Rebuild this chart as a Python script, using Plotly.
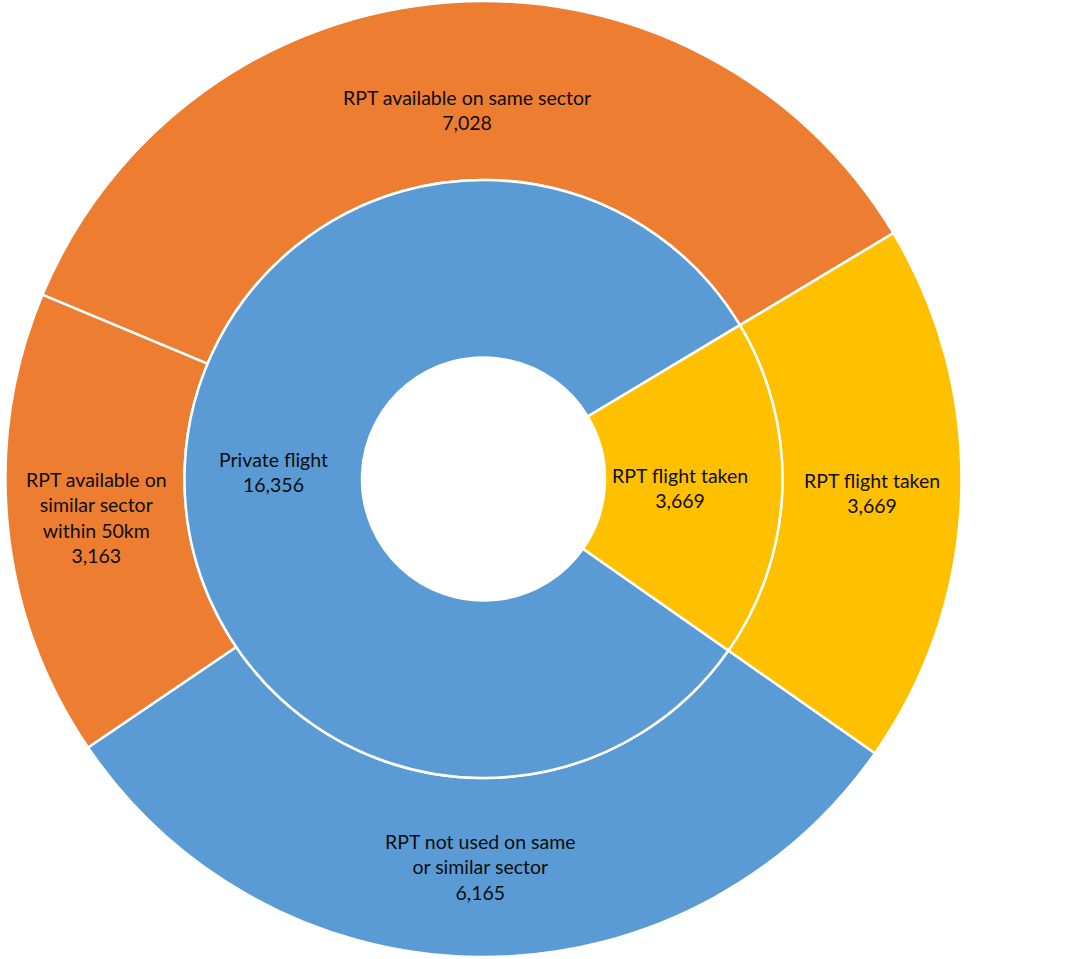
import numpy as np
import plotly.graph_objects as go

# ---- data ----
inner_labels = ["Private flight", "RPT flight taken"]
inner_values = [16356, 3669]
inner_text = ["Private flight", "RPT flight taken"]

outer_labels = ["RPT not used on same or similar sector",
                "RPT available on similar sector within 50km",
                "RPT available on same sector",
                "RPT flight taken"]
outer_values = [6165, 3163, 7028, 3669]
outer_text = ["RPT not used on same<br>or similar sector",
              "RPT available on<br>similar sector<br>within 50km",
              "RPT available on same sector",
              "RPT flight taken"]

# ---- style / layout ----
BLUE, ORANGE, YELLOW = "#5B9BD5", "#ED7D31", "#FFC000"
inner_colors = [BLUE, YELLOW]
outer_colors = [BLUE, ORANGE, ORANGE, YELLOW]

W, H = 1080, 959
CX, CY = 483.5, 479.0
R_OUT, R_MID, R_HOLE = 478.0, 299.0, 121.5
ROTATION = 125  # degrees clockwise from 12 o'clock where first slice starts
FONT = dict(family="Lato, Open Sans, sans-serif", size=19.5, color="#0d0d0d")
# small label nudges (pixels, screen coords) to mimic the original placement
NUDGE = {("outer", 2): (11, 18), ("inner", 1): (-14, 2)}


def domain(r):
    return dict(x=[(CX - r) / W, (CX + r) / W],
                y=[(H - (CY + r)) / H, (H - (CY - r)) / H])


fig = go.Figure()
fig.add_trace(go.Pie(labels=outer_labels, values=outer_values, sort=False,
                     direction="clockwise", rotation=ROTATION,
                     hole=R_MID / R_OUT, domain=domain(R_OUT),
                     marker=dict(colors=outer_colors, line=dict(color="white", width=2.5)),
                     textinfo="none", hoverinfo="label+value", showlegend=False))
fig.add_trace(go.Pie(labels=inner_labels, values=inner_values, sort=False,
                     direction="clockwise", rotation=ROTATION,
                     hole=R_HOLE / R_MID, domain=domain(R_MID),
                     marker=dict(colors=inner_colors, line=dict(color="white", width=2.5)),
                     textinfo="none", hoverinfo="label+value", showlegend=False))


def add_labels(ring, values, texts, r_in, r_out):
    vals = np.asarray(values, dtype=float)
    frac = vals / vals.sum()
    start = np.concatenate([[0], np.cumsum(frac)[:-1]])
    mid = ROTATION + 360 * (start + frac / 2)  # clockwise from top
    rm = (r_in + r_out) / 2
    for i, (ang, v, t) in enumerate(zip(mid, values, texts)):
        a = np.deg2rad(ang)
        dx, dy = NUDGE.get((ring, i), (0, 0))
        px = CX + rm * np.sin(a) + dx
        py = CY - rm * np.cos(a) + dy
        fig.add_annotation(x=px / W, y=1 - py / H, xref="paper", yref="paper",
                           text=f"{t}<br>{v:,}", showarrow=False, font=FONT,
                           align="center", xanchor="center", yanchor="middle")


add_labels("outer", outer_values, outer_text, R_MID, R_OUT)
add_labels("inner", inner_values, inner_text, R_HOLE, R_MID)

fig.update_layout(width=W, height=H, margin=dict(l=0, r=0, t=0, b=0),
                  paper_bgcolor="white", plot_bgcolor="white")
fig.write_html("out.html", config={"displayModeBar": False},
               post_script="document.body.style.margin='0';")
